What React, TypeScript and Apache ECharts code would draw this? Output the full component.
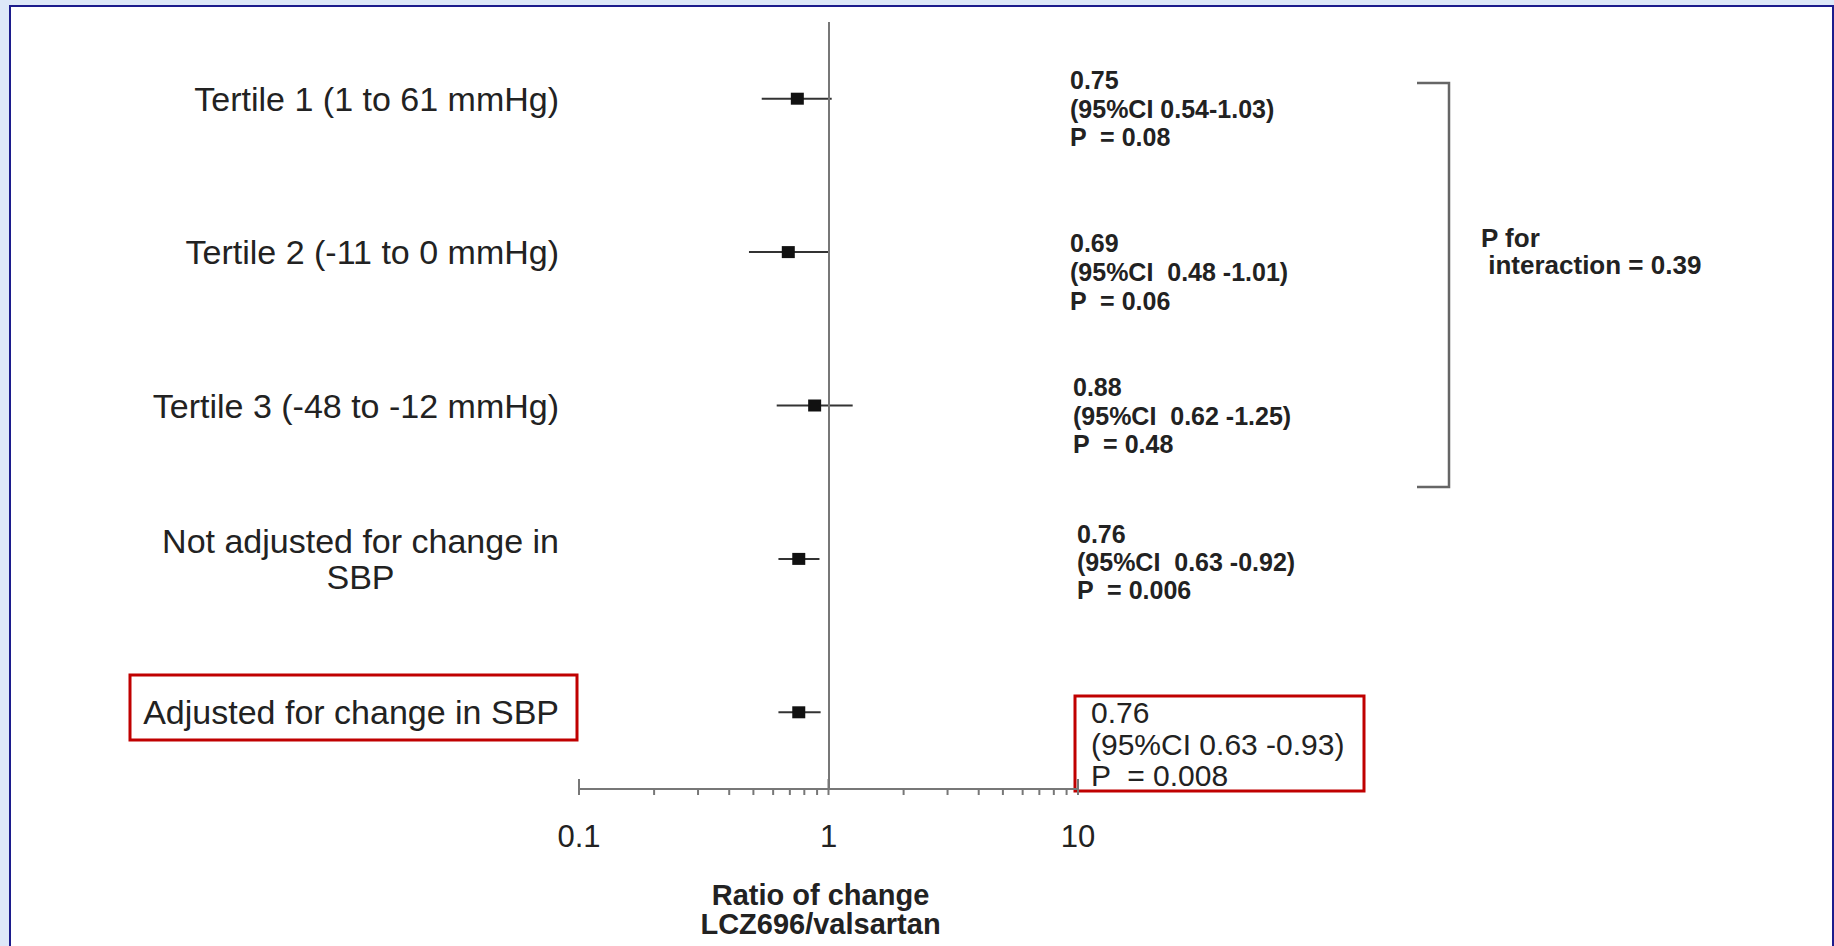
import React, { useEffect, useRef } from "react";
import * as echarts from "echarts";

const FONT = "'Liberation Sans', Arial, Helvetica, sans-serif";

// ---- data ----
const categories = [
  "Tertile 1 (1 to 61 mmHg)",
  "Tertile 2 (-11 to 0 mmHg)",
  "Tertile 3 (-48 to -12 mmHg)",
  "Not adjusted for change in\nSBP",
  "Adjusted for change in SBP",
];
const estimates = [0.75, 0.69, 0.88, 0.76, 0.76];
const ciLower = [0.54, 0.48, 0.62, 0.63, 0.63];
const ciUpper = [1.03, 1.01, 1.25, 0.92, 0.93];
const estimateTexts = ["0.75", "0.69", "0.88", "0.76", "0.76"];
const ciTexts = [
  "(95%CI 0.54-1.03)",
  "(95%CI  0.48 -1.01)",
  "(95%CI  0.62 -1.25)",
  "(95%CI  0.63 -0.92)",
  "(95%CI 0.63 -0.93)",
];
const pTexts = ["P  = 0.08", "P  = 0.06", "P  = 0.48", "P  = 0.006", "P  = 0.008"];
const interactionText = "P for\n interaction = 0.39";
const xTickValues = [0.1, 1, 10];
const xTickLabels = ["0.1", "1", "10"];
const minorTickValues = [0.2, 0.3, 0.4, 0.5, 0.6, 0.7, 0.8, 0.9, 2, 3, 4, 5, 6, 7, 8, 9];
const axisTitle = "Ratio of change\nLCZ696/valsartan";

export default function App() {
  const ref = useRef<HTMLDivElement>(null);

  useEffect(() => {
    if (!ref.current) return;
    const chart = echarts.init(ref.current, null, { renderer: "svg" });

    const forestData = estimates.map((e, i) => [e, i, ciLower[i], ciUpper[i]]);
    const tickData = [
      ...xTickValues.map((v) => [v, 0, 1]),
      ...minorTickValues.map((v) => [v, 0, 0]),
    ];

    // annotation blocks (layout positions)
    const blockPos = [
      { x: 1070, y: 66, lh: 28.5, size: 25, weight: "bold" },
      { x: 1070, y: 228, lh: 29, size: 25, weight: "bold" },
      { x: 1073, y: 373, lh: 28.5, size: 25, weight: "bold" },
      { x: 1077, y: 520, lh: 28, size: 25, weight: "bold" },
      { x: 1091, y: 697, lh: 31.5, size: 30, weight: "normal" },
    ];

    const graphic: any[] = [
      {
        type: "rect",
        z: -10,
        silent: true,
        shape: { x: 0, y: 0, width: 1834, height: 946 },
        style: { fill: "#dde8f8" },
      },
      {
        type: "rect",
        z: -9,
        silent: true,
        shape: { x: 10, y: 6, width: 1823, height: 950 },
        style: { fill: "#ffffff", stroke: "#1c1c8c", lineWidth: 2 },
      },
      {
        type: "polyline",
        silent: true,
        shape: { points: [[1417, 83], [1449, 83], [1449, 487], [1417, 487]] },
        style: { stroke: "#666", lineWidth: 2.5, fill: null },
      },
      {
        type: "text",
        silent: true,
        x: 1481,
        y: 224,
        style: {
          text: interactionText,
          font: `bold 26px ${FONT}`,
          fill: "#222",
          lineHeight: 27,
          textVerticalAlign: "top",
        },
      },
      {
        type: "rect",
        silent: true,
        shape: { x: 130, y: 675, width: 447, height: 65 },
        style: { fill: null, stroke: "#c00000", lineWidth: 3 },
      },
      {
        type: "rect",
        silent: true,
        shape: { x: 1075, y: 696, width: 289, height: 95 },
        style: { fill: null, stroke: "#c00000", lineWidth: 3 },
      },
      ...blockPos.map((b, i) => ({
        type: "text",
        silent: true,
        x: b.x,
        y: b.y,
        style: {
          text: `${estimateTexts[i]}\n${ciTexts[i]}\n${pTexts[i]}`,
          font: `${b.weight} ${b.size}px ${FONT}`,
          fill: "#222",
          lineHeight: b.lh,
          textVerticalAlign: "top",
        },
      })),
    ];

    const option: any = {
      animation: false,
      backgroundColor: "transparent",
      textStyle: { fontFamily: FONT },
      grid: { left: 579, right: 756, top: 22, bottom: 157 },
      xAxis: {
        type: "log",
        logBase: 10,
        min: 0.1,
        max: 10,
        axisLine: { show: true, lineStyle: { color: "#777", width: 2 } },
        axisTick: { show: false },
        splitLine: { show: false },
        axisLabel: {
          fontSize: 31,
          color: "#222",
          margin: 32,
          fontFamily: FONT,
          formatter: (v: number) => {
            const idx = xTickValues.findIndex((t) => Math.abs(t - v) < 1e-9);
            return idx >= 0 ? xTickLabels[idx] : "";
          },
        },
        name: axisTitle,
        nameLocation: "middle",
        nameGap: 91,
        nameTextStyle: {
          fontSize: 29,
          fontWeight: "bold",
          color: "#222",
          lineHeight: 29,
          fontFamily: FONT,
          padding: [0, 16, 0, 0],
        },
      },
      yAxis: {
        type: "category",
        inverse: true,
        data: categories,
        axisLine: { show: false },
        axisTick: { show: false },
        splitLine: { show: false },
        axisLabel: {
          fontSize: 34,
          color: "#222",
          margin: 20,
          fontFamily: FONT,
          align: "right",
          lineHeight: 36,
          formatter: (v: string) =>
            v.includes("\n")
              ? v
                  .split("\n")
                  .map((s) => `{c|${s}}`)
                  .join("\n")
              : v,
          rich: {
            c: {
              align: "center",
              fontSize: 34,
              lineHeight: 36,
              color: "#222",
              fontFamily: FONT,
            },
          },
        },
      },
      series: [
        {
          type: "custom",
          name: "ticks",
          clip: false,
          silent: true,
          data: tickData,
          encode: { x: 0, y: 1 },
          renderItem: (params: any, api: any) => {
            const x = api.coord([api.value(0), 0])[0];
            const cs = params.coordSys;
            const axisY = cs.y + cs.height;
            const major = api.value(2) === 1;
            return {
              type: "line",
              shape: {
                x1: x,
                y1: major ? axisY - 10 : axisY,
                x2: x,
                y2: axisY + 6,
              },
              style: { stroke: "#777", lineWidth: 2 },
            };
          },
        },
        {
          type: "custom",
          name: "forest",
          silent: true,
          data: forestData,
          encode: { x: [0, 2, 3], y: 1 },
          renderItem: (params: any, api: any) => {
            const row = api.value(1);
            const c = api.coord([api.value(0), row]);
            const lo = api.coord([api.value(2), row]);
            const hi = api.coord([api.value(3), row]);
            return {
              type: "group",
              children: [
                {
                  type: "line",
                  shape: { x1: lo[0], y1: c[1], x2: hi[0], y2: c[1] },
                  style: { stroke: "#333", lineWidth: 2 },
                },
                {
                  type: "rect",
                  shape: { x: c[0] - 6.5, y: c[1] - 6, width: 13, height: 12 },
                  style: { fill: "#111" },
                },
              ],
            };
          },
          markLine: {
            silent: true,
            symbol: "none",
            label: { show: false },
            lineStyle: { color: "#777", width: 2, type: "solid" },
            data: [{ xAxis: 1 }],
          },
        },
      ],
      graphic,
    };

    chart.setOption(option);
    return () => chart.dispose();
  }, []);

  return (
    <div
      ref={ref}
      style={{ position: "absolute", left: 0, top: 0, width: 1834, height: 946 }}
    />
  );
}
